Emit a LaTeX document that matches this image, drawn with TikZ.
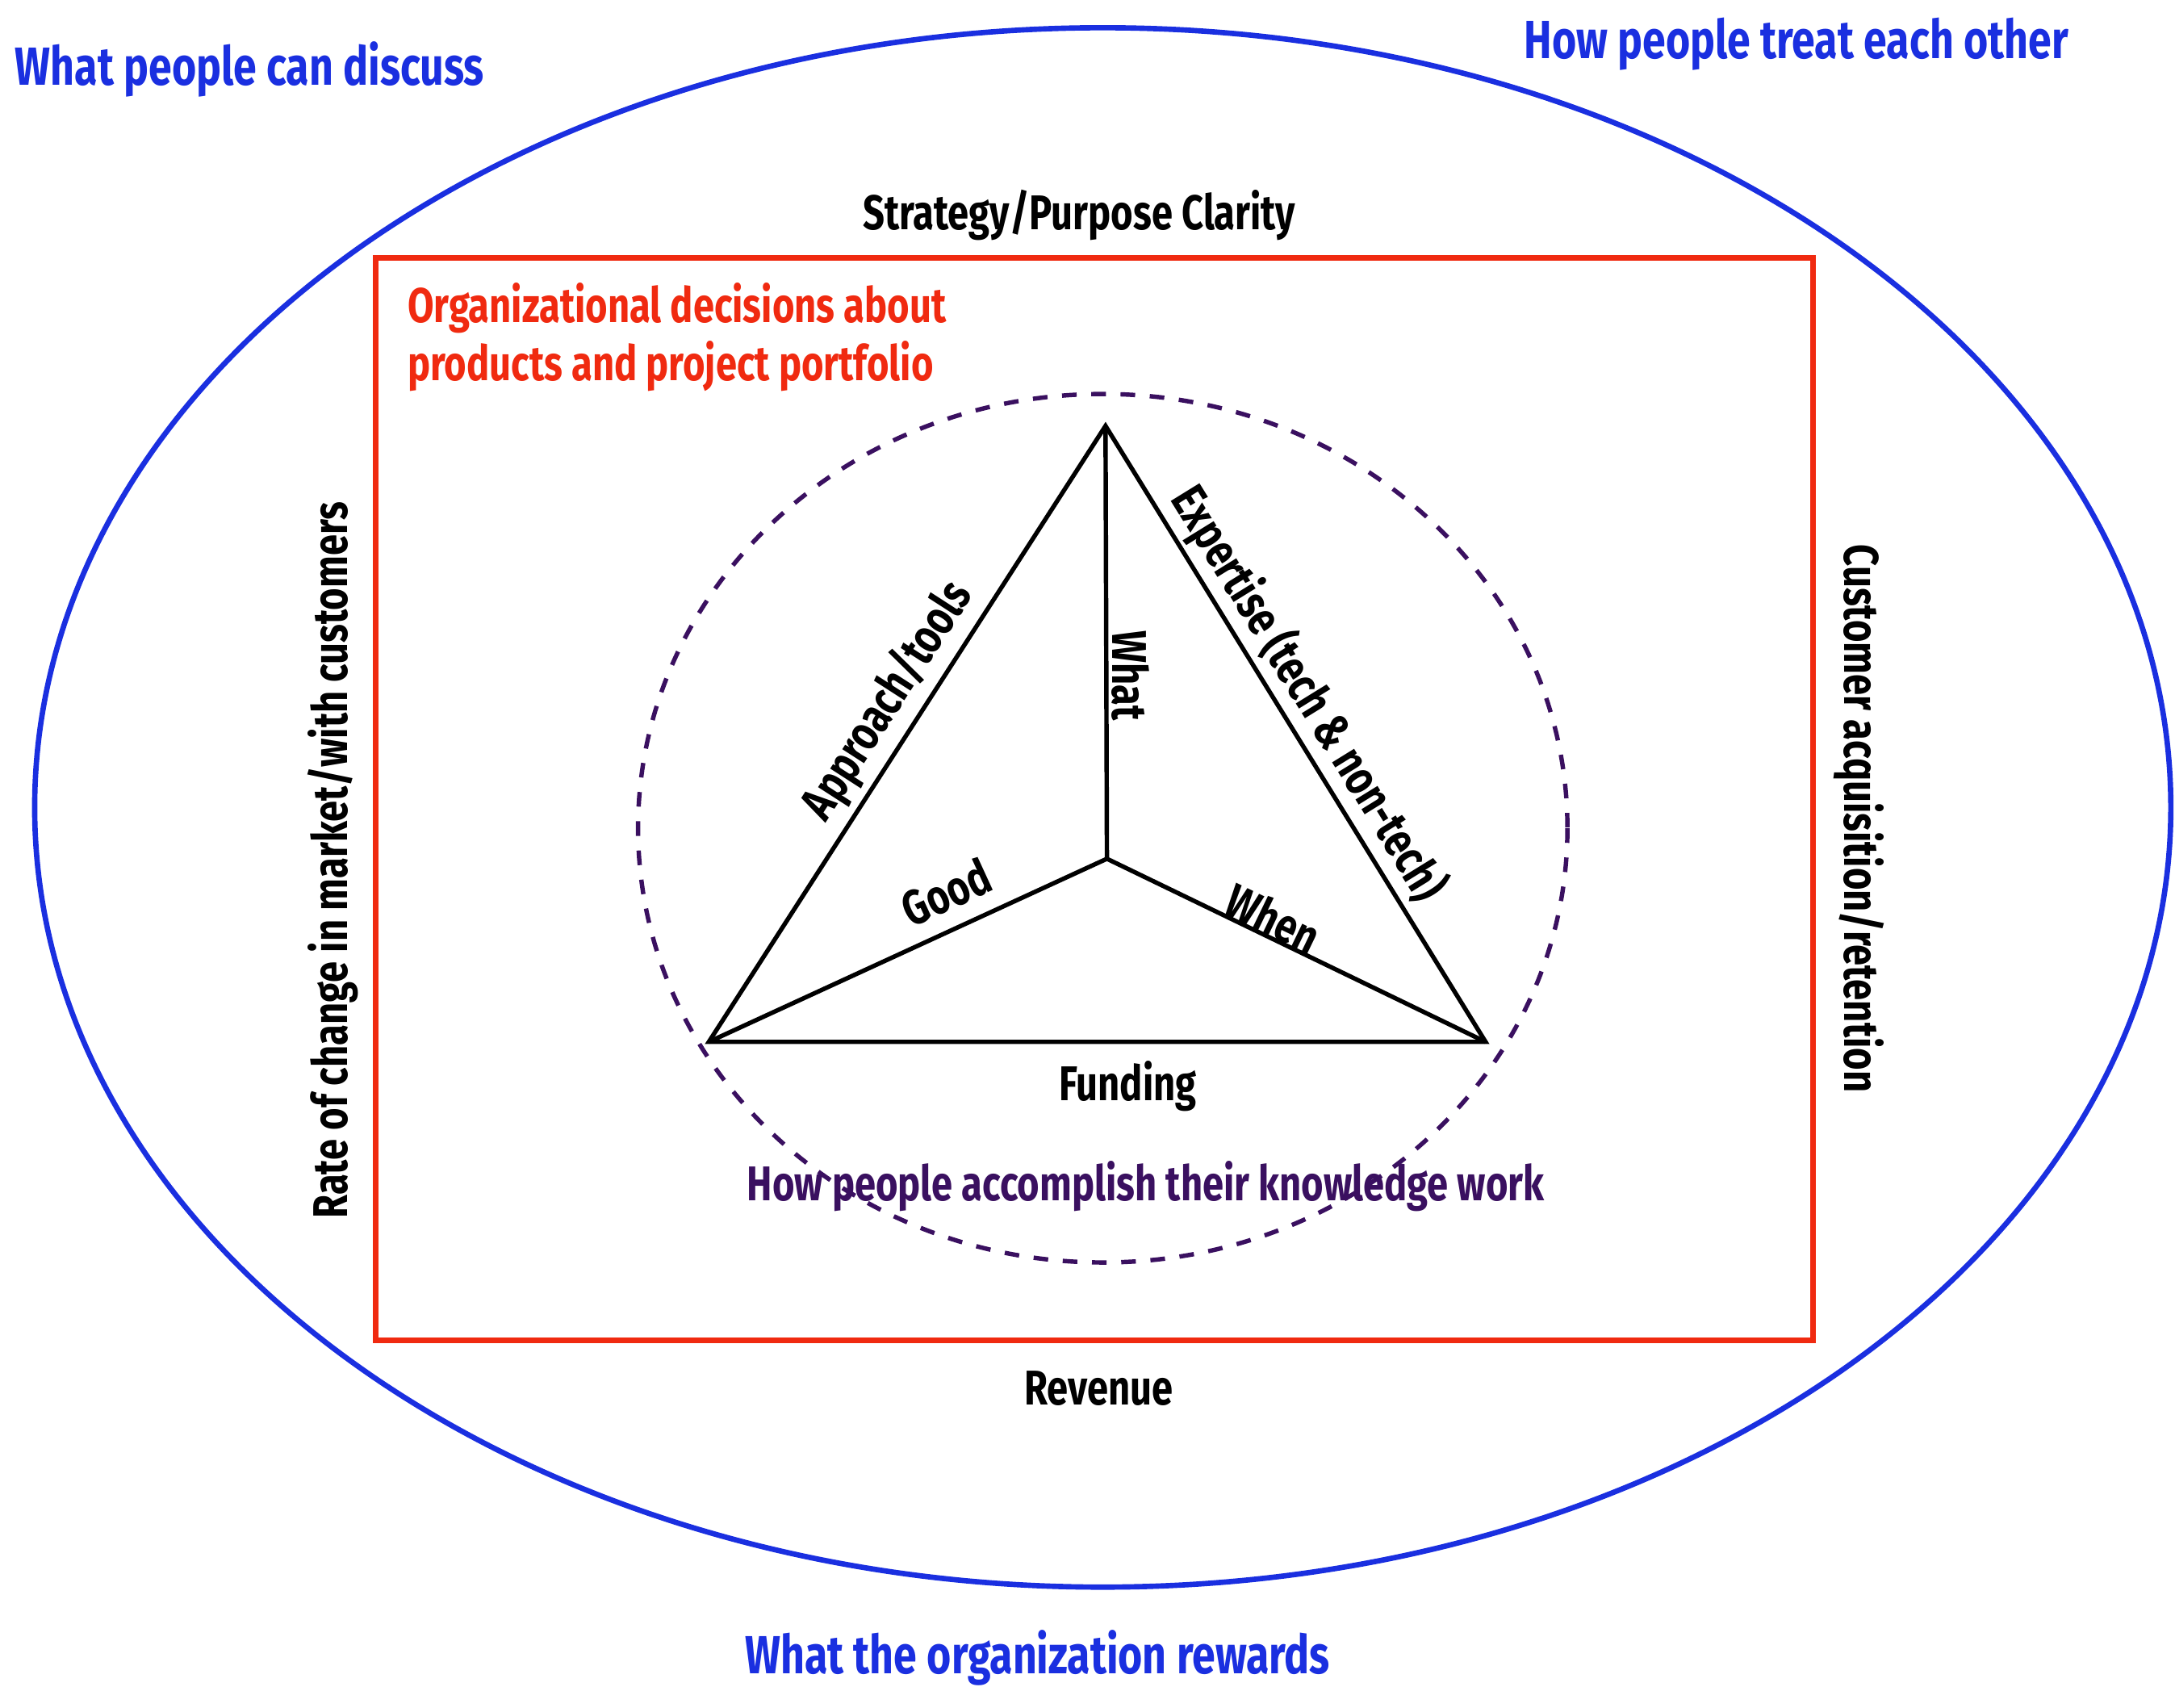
\documentclass[tikz,border=0pt]{standalone}
\usepackage{fontspec}
\setmainfont[FakeStretch=0.78]{Fira Sans}
\begin{document}
\begin{tikzpicture}[x=0.01cm,y=-0.01cm,
  lab/.style={font=\bfseries\fontsize{10}{12}\selectfont, inner sep=1pt},
  big/.style={font=\bfseries\fontsize{11}{13}\selectfont, inner sep=1pt}]
\definecolor{cblue}{HTML}{1A2FE0}
\definecolor{cred}{HTML}{F02A10}
\definecolor{cpurp}{HTML}{3A1060}
\useasboundingbox (0,0) rectangle (1568,1231);
\draw[cblue, line width=1.1pt] (795,582) ellipse [x radius=770, y radius=562];
\draw[cred, line width=1.1pt] (271,186) rectangle (1307,966);
\draw[cpurp, dashed, line width=0.9pt] (795,597) ellipse [x radius=335, y radius=313];
\coordinate (T) at (797,307);
\coordinate (L) at (511,751);
\coordinate (R) at (1071,751);
\coordinate (C) at (798,619);
\draw[line width=0.9pt] (T) -- (L) -- (R) -- cycle;
\draw[line width=0.9pt] (T) -- (C) (L) -- (C) -- (R);
\node[big, cblue] (n1) at (180,50) {What people can discuss};
\node[big, cblue] (n2) at (1295,32) {How people treat each other};
\node[big, cblue] (n3) at (748,1195) {What the organization rewards};
\node[lab] (n4) at (778,155) {Strategy/Purpose Clarity};
\node[lab] (n5) at (792,1001) {Revenue};
\node[lab, rotate=90] (n6) at (240,620) {Rate of change in market/with customers};
\node[lab, rotate=-90] (n7) at (1340,590) {Customer acquisition/retention};
\node[lab, cred, align=left] (n8) at (488,243) {Organizational decisions about\\ products and project portfolio};
\node[lab, cpurp] (n9) at (826,855) {How people accomplish their knowledge work};
\node[lab] (n10) at (813,783) {Funding};
\node[lab, rotate=-90] (n11) at (815,487) {What};
\node[lab, rotate=57.2] (n12) at (640,505) {Approach/tools};
\node[lab, rotate=-58.3] (n13) at (943,500) {Expertise (tech \& non-tech)};
\node[lab, rotate=24.7] (n14) at (682,643) {Good};
\node[lab, rotate=-25.8] (n15) at (918,662) {When};
\end{tikzpicture}
\end{document}
